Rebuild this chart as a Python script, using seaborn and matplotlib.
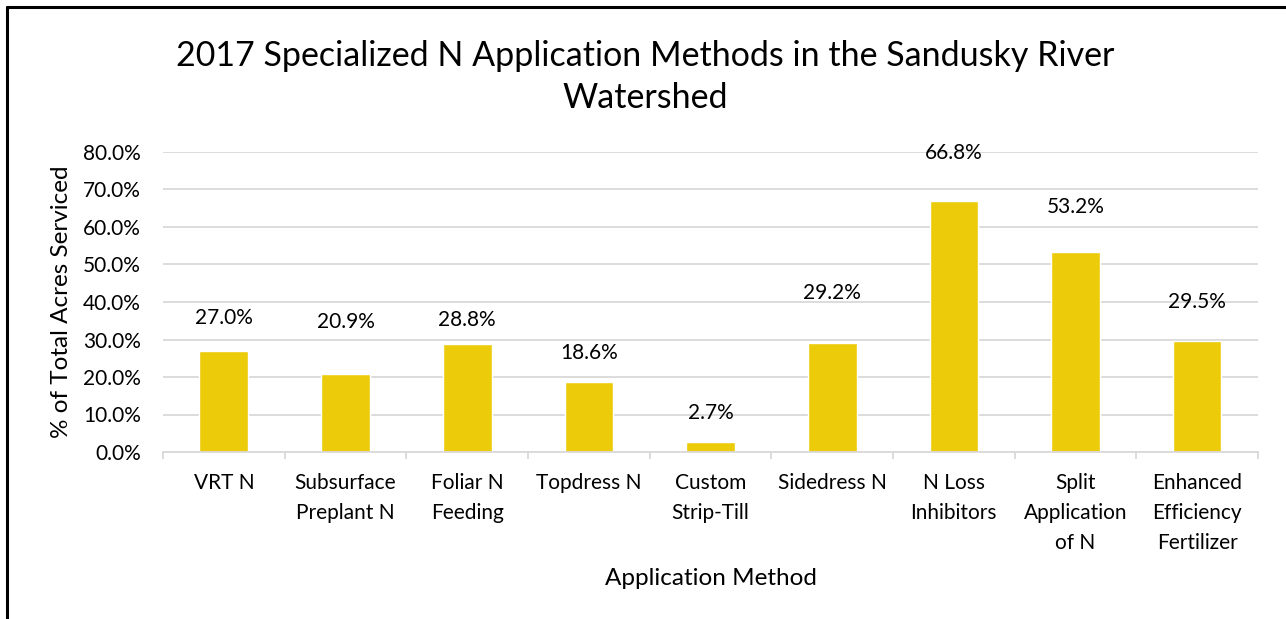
import matplotlib
matplotlib.use("Agg")
import matplotlib.pyplot as plt
from matplotlib.lines import Line2D
from matplotlib.ticker import PercentFormatter, FixedLocator
import seaborn as sns
import pandas as pd
import numpy as np

# ---- data ----
categories = ["VRT N", "Subsurface\nPreplant N", "Foliar N\nFeeding", "Topdress N",
              "Custom\nStrip-Till", "Sidedress N", "N Loss\nInhibitors",
              "Split\nApplication\nof N", "Enhanced\nEfficiency\nFertilizer"]
values = [27.0, 20.9, 28.8, 18.6, 2.7, 29.2, 66.8, 53.2, 29.5]
value_labels = ["27.0%", "20.9%", "28.8%", "18.6%", "2.7%", "29.2%", "66.8%", "53.2%", "29.5%"]
y_ticks = [0, 10, 20, 30, 40, 50, 60, 70, 80]

# label offsets above bar tops (points) - manual Excel placement
label_offsets = [23.5, 37, 17.5, 21, 21, 35.5, 35, 33, 28.5]

sns.set_theme(style="white")
plt.rcParams['font.family'] = ['Lato', 'DejaVu Sans']

W, H = 1286, 619
fig = plt.figure(figsize=(W / 100, H / 100), dpi=100)
ax = fig.add_axes([163 / W, 1 - 452 / H, (1258 - 163) / W, 300 / H])

df = pd.DataFrame({"cat": categories, "val": values})
bar_color = "#EBCB0A"
sns.barplot(data=df, x="cat", y="val", color=bar_color, width=0.4,
            saturation=1, ax=ax, zorder=3)

ax.set_ylim(0, 80)
ax.set_xlim(-0.5, len(categories) - 0.5)
ax.yaxis.set_major_locator(FixedLocator(y_ticks))
ax.yaxis.set_major_formatter(PercentFormatter(decimals=1))
ax.grid(axis="y", color="#D9D9D9", linewidth=1.3, zorder=0)
ax.set_axisbelow(True)

for s in ["top", "right", "left"]:
    ax.spines[s].set_visible(False)
ax.spines["bottom"].set_color("#D9D9D9")
ax.spines["bottom"].set_linewidth(1.3)
ax.spines["bottom"].set_zorder(4)

ax.tick_params(axis="y", length=0, pad=16, labelsize=15, labelcolor="#000000")
ax.tick_params(axis="x", which="major", length=0, pad=15, labelsize=15, labelcolor="#000000")
ax.set_xticks(np.arange(-0.5, len(categories), 1.0), minor=True)
ax.tick_params(axis="x", which="minor", length=5, width=1.3, color="#D9D9D9", bottom=True)
for lab in ax.get_xticklabels():
    lab.set_linespacing(1.62)
    lab.set_va("top")

for i, (v, t, off) in enumerate(zip(values, value_labels, label_offsets)):
    ax.annotate(t, xy=(i, v), xytext=(0, off), textcoords="offset points",
                ha="center", va="center", fontsize=15, color="#000000")

ax.set_xlabel("Application Method", fontsize=17.5, color="#000000", labelpad=11)
ax.set_ylabel("% of Total Acres Serviced", fontsize=17.5, color="#000000", labelpad=8)

fig.text(0.502, 1 - 77 / H, "2017 Specialized N Application Methods in the Sandusky River\nWatershed",
         ha="center", va="center", fontsize=24.5, color="#000000", linespacing=1.42)

# chart frame (top & left edges visible)
fig.add_artist(Line2D([7 / W, 1.0], [1 - 7 / H, 1 - 7 / H], transform=fig.transFigure,
                      color="black", linewidth=2.2))
fig.add_artist(Line2D([7 / W, 7 / W], [0, 1 - 7 / H], transform=fig.transFigure,
                      color="black", linewidth=2.2))

fig.savefig("out.png", dpi=100, facecolor="white")
